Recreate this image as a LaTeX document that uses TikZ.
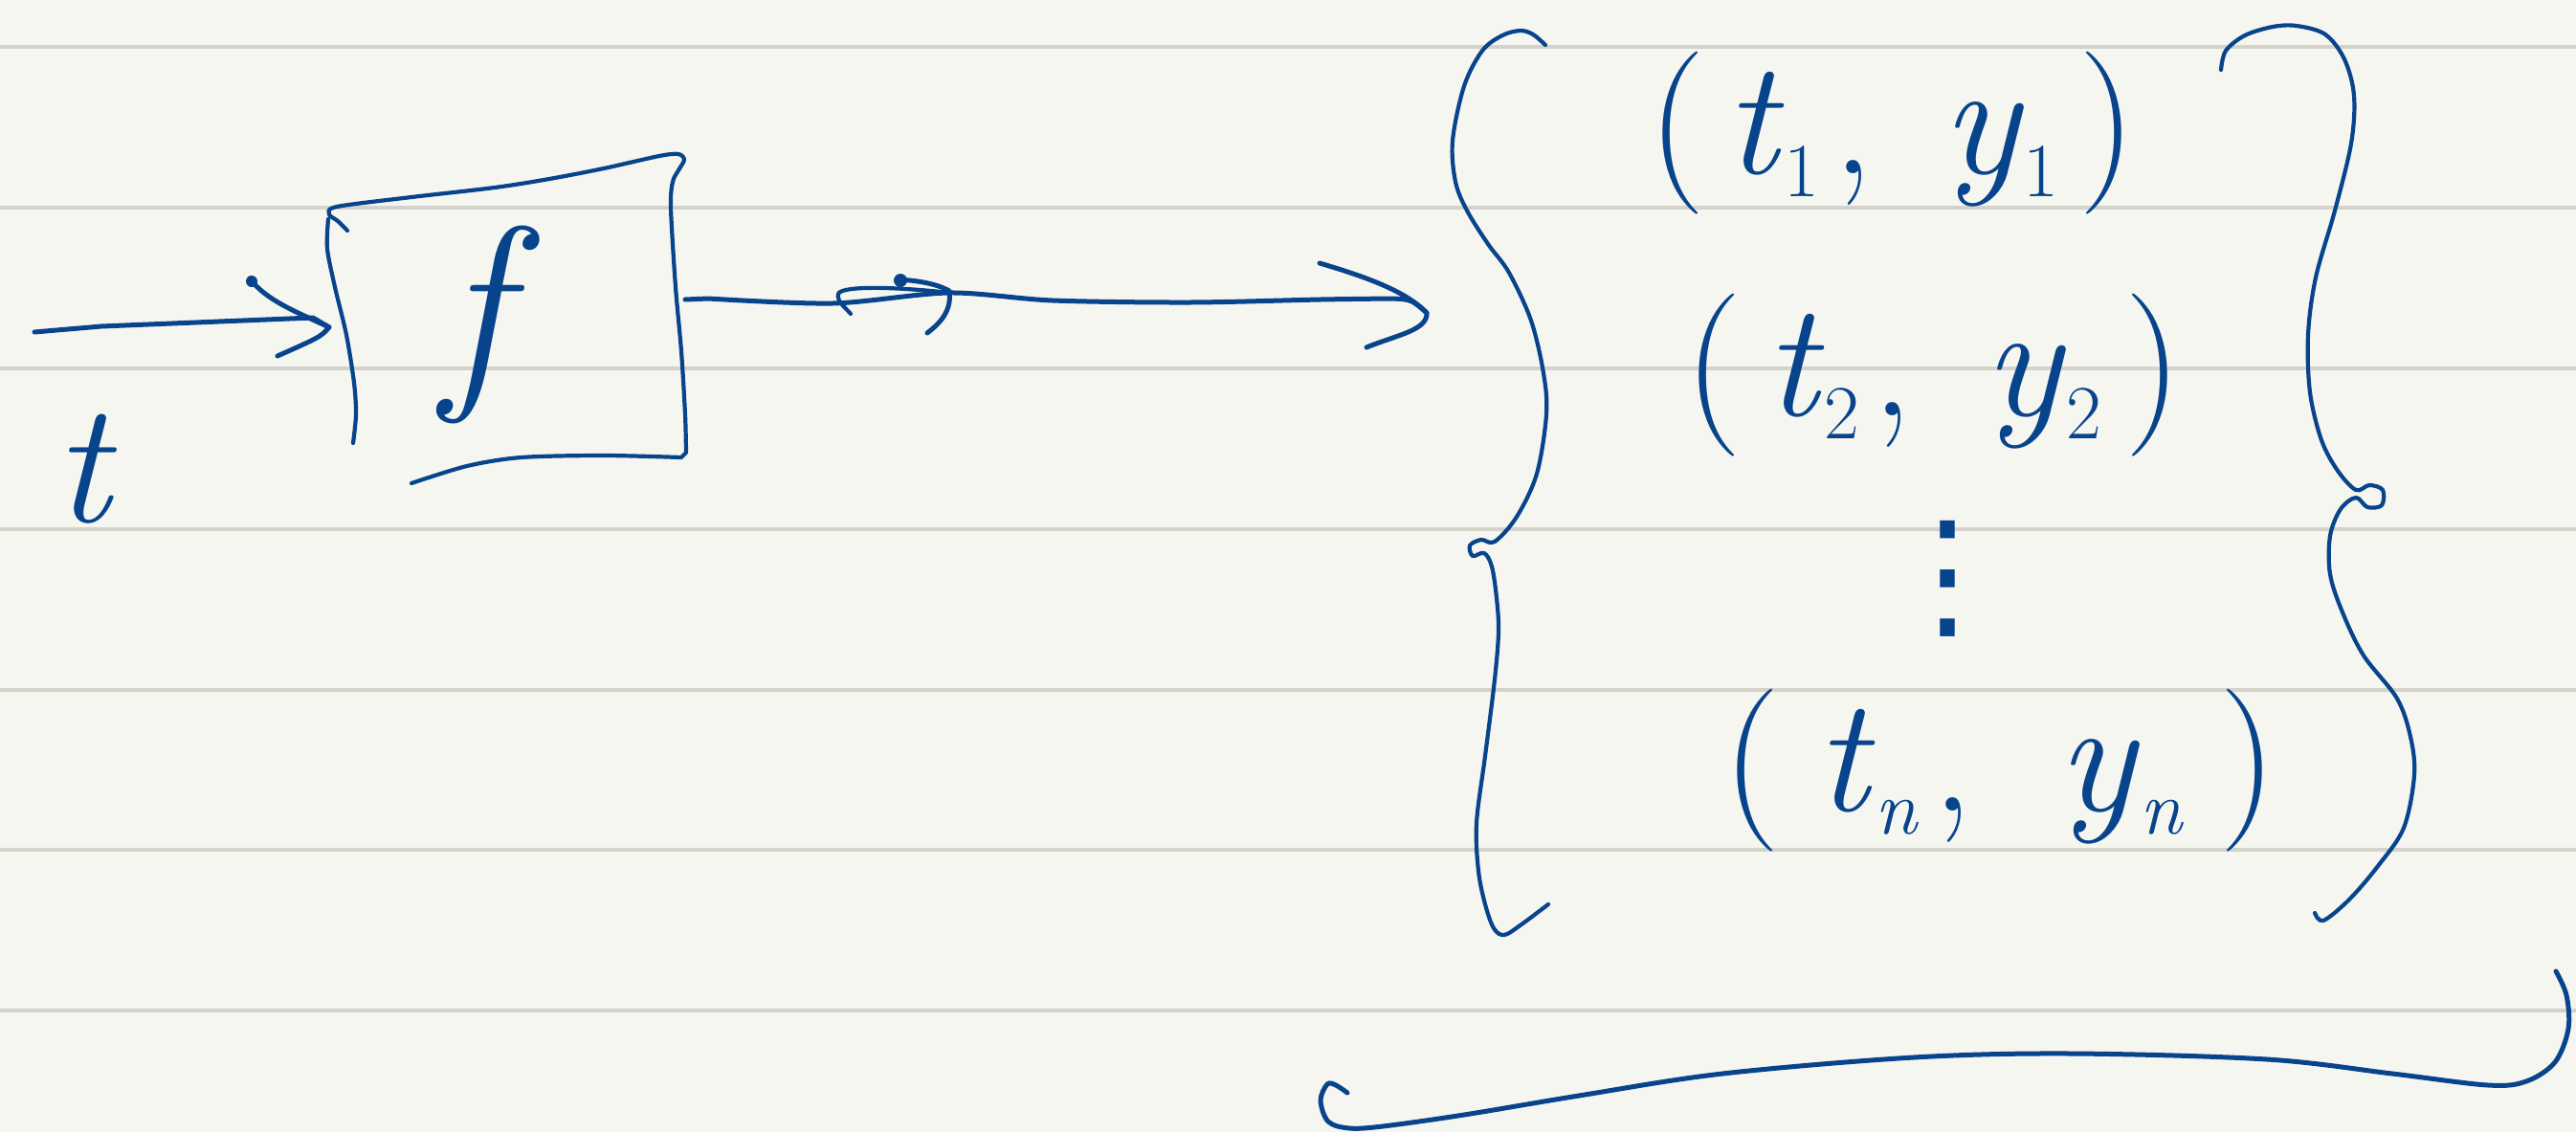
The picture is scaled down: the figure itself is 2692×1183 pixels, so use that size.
\documentclass[tikz,border=0pt]{standalone}
\usepackage{fontspec}
\newfontfamily\djv{DejaVu Sans}
\usetikzlibrary{calc}
\definecolor{ink}{RGB}{8,68,140}
\definecolor{paper}{RGB}{246,246,241}
\definecolor{rulegray}{RGB}{211,211,204}
\newcommand\hsub[1]{\lower24pt\hbox{\fontsize{80}{80}\selectfont #1}}
\newcommand\tuple[5]{(\kern#5\textit{#1}\hsub{#2}\kern0.08em,\kern0.3em\kern#5\textit{#3}\hsub{#4}\kern#5)}
\begin{document}
\begin{tikzpicture}[x=1pt,y=-1pt,
  pen/.style={draw=ink,line width=5pt,line cap=round,line join=round},
  penthin/.style={pen,line width=4.2pt},
  ruleline/.style={draw=rulegray,line width=4pt},
  txt/.style={text=ink,inner sep=0pt,outer sep=0pt},
  tup/.style={txt,anchor=base west,font=\fontsize{170}{200}\selectfont},
  hidden/.style={inner sep=0pt,outer sep=0pt}]
\fill[paper] (0,0) rectangle (2692,1183);
\useasboundingbox (0,0) rectangle (2692,1183);
\foreach \yy in {49,217,385,553,721,888,1056} \draw[ruleline] (0,\yy) -- (2692,\yy);

% function box (anchors) and its label
\node[hidden, minimum width=372pt, minimum height=312pt] (box) at (530,321) {};
\node[txt,anchor=base,font=\fontsize{228}{260}\selectfont\itshape] (fname) at (497,396) {f};

% hand-drawn box outline
\draw[penthin] plot[smooth,tension=0.5] coordinates {(363,241)(353,231)(344,224)(352,216)(430,206)(517,196)(574,187)(631,176)(689,163)(709,161)(715,167)(709,178)(703,190)(701,217)(706,300)(712,367)(716,433)(717,473)}
  -- plot[smooth,tension=0.5] coordinates {(712,478)(631,476)(545,478)(488,487)(430,505)};
\draw[penthin] plot[smooth,tension=0.5] coordinates {(343,229)(342,260)(350,300)(362,350)(370,400)(372,433)(369,463)};

% input arrow
\coordinate (src) at (36,347);
\node[txt,anchor=base,font=\fontsize{180}{200}\selectfont\itshape] (tin) at (86,545) {t};
\draw[pen] (src) -- (106,341) -- (327,332) -- ([yshift=-21pt]box.west);
\draw[pen] (261,291) .. controls (278,314) and (310,326) .. ([yshift=-21pt]box.west) .. controls (335,352) .. (290,372);
\fill[ink] (263,294) circle (6pt);

% output arrow
\coordinate (dst) at (1491,327);
\draw[pen] ([yshift=8pt]box.east) -- plot[smooth,tension=0.5] coordinates {(740,312)(870,317)(992,306)(1100,314)(1244,316)(1380,313)(1455,312)} .. controls (1475,313) .. (dst);
\draw[pen] (1379,275) .. controls (1430,290) and (1470,305) .. (dst) .. controls (1492,345) and (1460,350) .. (1428,363);
\draw[pen] (937,292) .. controls (960,293) and (980,297) .. (992,304) .. controls (995,325) and (982,338) .. (969,348);
\fill[ink] (941,293) circle (7pt);
\draw[penthin] (992,306) .. controls (940,300) and (880,298) .. (876,307) .. controls (874,315) and (884,322) .. (889,328);

% tuples
\node[tup] (p1) at (1722,181) {\tuple{t}{1}{y}{1}{0.12em}};
\node[tup] (p2) at (1760,434) {\tuple{t}{2}{y}{2}{0.14em}};
\node[tup] (pn) at (1800,847) {\tuple{t}{\textit{n}}{y}{\textit{n}}{0.22em}};
\node[txt,font=\fontsize{150}{160}\selectfont\djv] (dots) at (2035,605) {⋮};

% left brace
\draw[penthin] plot[smooth,tension=0.55] coordinates {(1615,47)(1602,36)(1589,32)(1570,37)(1549,53)(1530,90)(1518,147)(1521,190)(1533,220)(1555,255)(1577,285)(1600,335)(1613,390)(1616,433)(1606,495)(1585,540)(1562,566)(1548,564)(1536,570)(1539,581)(1551,578)(1559,592)(1564,625)(1566,660)(1562,710)(1552,790)(1543,860)(1545,910)(1552,945)(1561,970)(1572,977)(1590,966)(1618,945)};

% right brace
\draw[penthin] plot[smooth,tension=0.55] coordinates {(2321,73)(2326,53)(2346,37)(2375,28)(2400,27)(2430,36)(2450,62)(2460,100)(2457,150)(2440,220)(2420,290)(2412,350)(2414,410)(2426,460)(2443,492)(2462,512)(2476,507)(2490,512)(2489,528)(2474,530)(2462,520)(2446,532)(2435,560)(2435,600)(2448,640)(2470,685)(2505,730)(2519,770)(2523,810)(2512,865)(2485,905)(2455,940)(2428,962)(2419,954)};

% bottom brace
\draw[pen] plot[smooth,tension=0.55] coordinates {(1408,1142)(1396,1134)(1387,1133)(1380,1150)(1388,1172)(1410,1179)(1445,1177)(1530,1165)(1650,1145)(1800,1122)(2000,1105)(2164,1101)(2369,1107)(2500,1122)(2600,1134)(2640,1130)(2670,1110)(2684,1075)(2682,1040)(2671,1015)};
\end{tikzpicture}
\end{document}
